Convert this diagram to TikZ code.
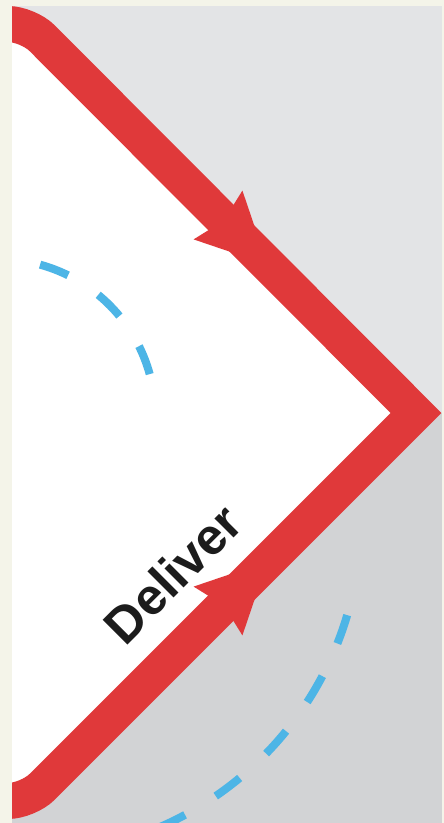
\documentclass[tikz,border=0pt]{standalone}
\usepackage{fontspec}
\setmainfont{Liberation Sans}
\definecolor{creambg}{HTML}{F4F4E9}
\definecolor{graytop}{HTML}{E3E4E6}
\definecolor{graybot}{HTML}{D2D3D5}
\definecolor{bandred}{HTML}{E0393A}
\definecolor{dashblue}{HTML}{4DB5E6}
\definecolor{inkblack}{HTML}{1C1C1C}
\begin{document}
\begin{tikzpicture}[x=1pt,y=1pt,
  band/.style={draw=bandred, line width=36pt, line join=miter},
  headfill/.style={fill=bandred},
  arcdash/.style={draw=dashblue, line width=8pt, dash pattern=on 30pt off 36pt},
  phaselabel/.style={font=\fontsize{51}{53}\selectfont\bfseries, text=inkblack, rotate=45, inner sep=0pt}]
\useasboundingbox (0,0) rectangle (444,823);
\fill[creambg] (0,0) rectangle (444,823);
\fill[graybot] (12,0) rectangle (442,410);
\fill[graytop] (12,410) rectangle (442,817);
\coordinate (ctop) at (28,799);
\coordinate (apex) at (416,410);
\coordinate (cbot) at (28,22);
\begin{scope}
  \clip (12,0) rectangle (442,817);
  \fill[white, rounded corners=20pt] (0,799) -- (ctop) [sharp corners] -- (apex) [rounded corners=20pt] -- (cbot) -- (0,22) -- cycle;
  \draw[arcdash] (-1.6,407) ++(74.6:157) arc[start angle=74.6, end angle=14.8, radius=157];
  \draw[arcdash] (26,303) ++(-16.5:335) arc[start angle=-16.5, end angle=-72, radius=335];
  \draw[band, rounded corners=20pt] (0,799) -- (ctop) [sharp corners] -- (apex) [rounded corners=20pt] -- (cbot) -- (0,22);
  % arrowhead on the upper leg
  \fill[headfill] (267.5,558.5) -- (242.4,632.4) -- (223.7,602.3) -- (193.6,583.6) -- cycle;
  % arrowhead on the lower leg
  \fill[headfill] (267.5,261.5) -- (193.6,236.4) -- (223.7,217.7) -- (242.4,187.6) -- cycle;
\end{scope}
\node[phaselabel] (deliver) at (173,249) {Deliver};
\end{tikzpicture}
\end{document}
